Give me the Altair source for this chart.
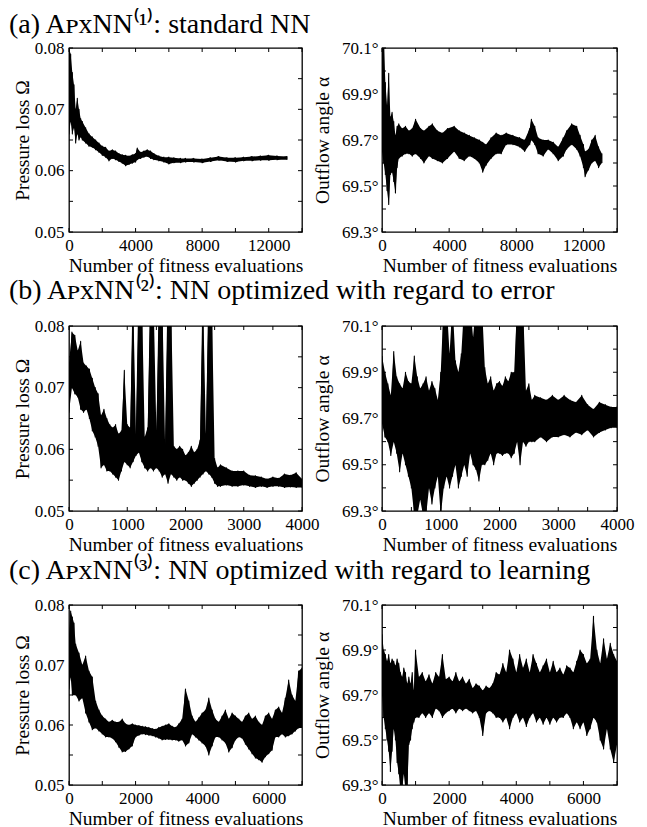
import altair as alt
import pandas as pd

FONT = "Liberation Serif"

# ---------------- (a) standard NN ----------------
a_loss_x = [0, 100, 200, 300, 400, 500, 600, 700, 800, 1000, 1200, 1400, 1600, 1800, 2000, 2200, 2400,
            2600, 2800, 3000, 3200, 3400, 3600, 3800, 4000, 4100, 4300, 4500, 4700, 4900, 5100, 5400,
            5700, 6000, 6300, 6700, 7000, 7500, 8000, 8500, 9000, 9500, 10000, 10500, 11000, 11500,
            12000, 12500, 13100]
a_loss_hi = [0.080, 0.079, 0.076, 0.074, 0.070, 0.0718, 0.070, 0.0685, 0.068, 0.067, 0.066, 0.0655,
             0.065, 0.0645, 0.064, 0.0638, 0.0632, 0.0634, 0.0632, 0.0628, 0.0626, 0.0625, 0.0624,
             0.0626, 0.0628, 0.0637, 0.0630, 0.0632, 0.0634, 0.0632, 0.0628, 0.0624, 0.0622, 0.0622,
             0.0621, 0.0620, 0.0620, 0.0620, 0.0619, 0.0621, 0.0623, 0.0621, 0.0621, 0.0622, 0.0623,
             0.0624, 0.0625, 0.0624, 0.0623]
a_loss_lo = [0.066, 0.068, 0.066, 0.067, 0.0645, 0.066, 0.065, 0.0655, 0.065, 0.0645, 0.064, 0.0638,
             0.0634, 0.063, 0.0625, 0.0622, 0.0616, 0.062, 0.0618, 0.0615, 0.0612, 0.0608, 0.061,
             0.0612, 0.0614, 0.0618, 0.062, 0.0622, 0.0623, 0.062, 0.0618, 0.0616, 0.0614, 0.0611,
             0.0613, 0.0613, 0.0614, 0.0614, 0.0613, 0.0615, 0.0617, 0.0615, 0.0614, 0.0616, 0.0616,
             0.0617, 0.0617, 0.0618, 0.0618]

a_ang_x = [0, 100, 200, 300, 400, 500, 600, 700, 800, 900, 1000, 1200, 1400, 1600, 1800, 2000, 2300,
           2500, 2800, 3000, 3300, 3600, 3900, 4300, 4600, 4900, 5200, 5500, 5800, 6000, 6200, 6500,
           6800, 7100, 7400, 7800, 8200, 8500, 8800, 8900, 9100, 9300, 9600, 9900, 10200, 10500,
           10800, 11000, 11300, 11600, 11800, 12000, 12100, 12300, 12500, 12700, 12900, 13100]
a_ang_hi = [70.15, 70.15, 69.95, 69.85, 69.99, 69.80, 69.82, 69.78, 69.72, 69.76,
            69.77, 69.75, 69.76, 69.74, 69.75, 69.79, 69.75, 69.74, 69.76, 69.77,
            69.74, 69.73, 69.75, 69.76, 69.74, 69.73, 69.72, 69.71, 69.70, 69.69,
            69.68, 69.71, 69.73, 69.72, 69.73, 69.72, 69.71, 69.70, 69.75, 69.79,
            69.76, 69.71, 69.70, 69.70, 69.69, 69.67, 69.71, 69.74, 69.77, 69.76,
            69.72, 69.68, 69.65, 69.66, 69.70, 69.72, 69.67, 69.64]
a_ang_lo = [69.65, 69.60, 69.55, 69.48, 69.42, 69.55, 69.56, 69.52, 69.47, 69.58,
            69.62, 69.63, 69.64, 69.64, 69.63, 69.64, 69.62, 69.60, 69.63, 69.62,
            69.61, 69.60, 69.62, 69.65, 69.62, 69.61, 69.63, 69.62, 69.60, 69.56,
            69.59, 69.62, 69.64, 69.64, 69.68, 69.68, 69.67, 69.65, 69.68, 69.70,
            69.68, 69.64, 69.63, 69.66, 69.64, 69.61, 69.63, 69.66, 69.68, 69.66,
            69.63, 69.58, 69.54, 69.57, 69.60, 69.61, 69.58, 69.60]

# ---------------- (b) optimized w.r.t. error ----------------
b_x = [0, 50, 100, 150, 200, 250, 300, 350, 400, 450, 500, 550, 600, 650, 700, 750, 800, 850, 900, 950,
       1000, 1050, 1100, 1150, 1200, 1250, 1300, 1350, 1400, 1450, 1500, 1550, 1600, 1650, 1700, 1750,
       1800, 1850, 1900, 1950, 2000, 2050, 2100, 2150, 2200, 2250, 2300, 2350, 2400, 2450, 2500, 2550,
       2600, 2700, 2800, 2900, 3000, 3100, 3200, 3300, 3400, 3500, 3600, 3700, 3800, 3900, 4000]
b_loss_hi = [0.074, 0.079, 0.0785, 0.076, 0.0775, 0.074, 0.0735, 0.073, 0.0715, 0.070,
             0.069, 0.0655, 0.0665, 0.065, 0.064, 0.0635, 0.064, 0.0625, 0.063, 0.0728,
             0.064, 0.0635, 0.085, 0.0625, 0.085, 0.085, 0.062, 0.0635, 0.085, 0.085,
             0.063, 0.085, 0.085, 0.0605, 0.085, 0.085, 0.0605, 0.060, 0.0605, 0.060,
             0.059, 0.0595, 0.0605, 0.0595, 0.060, 0.0615, 0.085, 0.0625, 0.085, 0.085,
             0.0585, 0.057, 0.0575,
             0.057, 0.0565, 0.0565, 0.0565, 0.0558, 0.0557, 0.0555, 0.0552, 0.0555, 0.0553,
             0.056, 0.0558, 0.0562, 0.0552]
b_loss_lo = [0.066, 0.070, 0.069, 0.0685, 0.0665, 0.066, 0.0665, 0.065, 0.063, 0.062,
             0.0605, 0.057, 0.0575, 0.0565, 0.0565, 0.056, 0.0555, 0.055, 0.0565, 0.058,
             0.0575, 0.057, 0.058, 0.059, 0.0595, 0.058, 0.057, 0.0565, 0.057, 0.0565,
             0.057, 0.0565, 0.0555, 0.056, 0.0545, 0.056, 0.0555, 0.055, 0.0555, 0.055,
             0.055, 0.0545, 0.054, 0.0545, 0.055, 0.0555, 0.056, 0.0565, 0.056, 0.0555,
             0.0545, 0.054, 0.054,
             0.0542, 0.054, 0.054, 0.0542, 0.054, 0.0538, 0.054, 0.0538, 0.054, 0.054,
             0.0538, 0.0539, 0.0538, 0.0538]
b_ang_hi = [69.97, 69.90, 69.85, 69.80, 69.99, 69.88, 69.85, 69.83, 69.90, 69.86,
            69.85, 69.97, 69.88, 69.83, 69.85, 69.88, 69.82, 69.86, 69.83, 69.78,
            69.90, 70.20, 70.20, 69.98, 70.20, 69.95, 69.90, 69.98, 70.20, 70.20,
            70.20, 70.05, 70.20, 70.20, 70.20, 69.92, 69.85, 69.88, 69.82, 69.85,
            69.86, 69.84, 69.88, 69.86, 69.90, 69.90, 70.20, 70.20, 70.20, 69.82,
            69.85, 69.78, 69.80,
            69.79, 69.78, 69.80, 69.78, 69.80, 69.78, 69.77, 69.80, 69.76, 69.74,
            69.77, 69.76, 69.75, 69.75]
b_ang_lo = [69.68, 69.62, 69.60, 69.54, 69.60, 69.55, 69.47, 69.55, 69.50, 69.45,
            69.40, 69.28, 69.28, 69.35, 69.28, 69.28, 69.40, 69.33, 69.40, 69.45,
            69.28, 69.40, 69.45, 69.40, 69.45, 69.50, 69.40, 69.45, 69.50, 69.45,
            69.55, 69.50, 69.48, 69.43, 69.50, 69.50, 69.52, 69.55, 69.50, 69.55,
            69.55, 69.54, 69.55, 69.55, 69.53, 69.55, 69.60, 69.50, 69.60, 69.58,
            69.60, 69.60, 69.60,
            69.62, 69.60, 69.62, 69.62, 69.63, 69.62, 69.64, 69.63, 69.65, 69.62,
            69.64, 69.65, 69.66, 69.66]

# ---------------- (c) optimized w.r.t. learning ----------------
c_loss_x = [0, 50, 100, 150, 200, 300, 400, 500, 600, 700, 800, 900, 1000, 1100, 1200, 1300, 1400,
            1500, 1600, 1700, 1800, 1900, 2000, 2100, 2200, 2300, 2400, 2500, 2600, 2700, 2800, 2900,
            3000, 3100, 3200, 3300, 3400, 3500, 3600, 3700, 3800, 3900, 4000, 4100, 4200, 4300, 4400,
            4500, 4600, 4700, 4800, 4900, 5000, 5100, 5200, 5300, 5400, 5500, 5600, 5700, 5800, 5900,
            6000, 6100, 6200, 6300, 6400, 6500, 6600, 6700, 6800, 6900, 7000]
c_loss_hi = [0.075, 0.079, 0.078, 0.077,
             0.0735, 0.072, 0.070, 0.0715, 0.069, 0.068, 0.064, 0.0625, 0.0615, 0.061,
             0.0605, 0.0608, 0.0605, 0.0605, 0.061, 0.0602, 0.060, 0.0602, 0.060, 0.0599,
             0.0598, 0.0597, 0.0596, 0.0594, 0.0593, 0.0596, 0.0598, 0.060, 0.0602, 0.0598,
             0.0596, 0.0602, 0.061, 0.066, 0.064, 0.0615, 0.0605, 0.0612, 0.062, 0.0625,
             0.0645, 0.0625, 0.061, 0.0605, 0.0615, 0.0625, 0.061, 0.062, 0.0615, 0.061,
             0.0605, 0.0615, 0.062, 0.061, 0.0615, 0.0605, 0.060, 0.0615, 0.062, 0.061,
             0.0625, 0.063, 0.062, 0.0645, 0.0675, 0.065, 0.064, 0.069, 0.0695]
c_loss_lo = [0.066, 0.068, 0.065, 0.065,
             0.065, 0.064, 0.0645, 0.062, 0.0605, 0.0592, 0.0595, 0.059, 0.0585, 0.058,
             0.058, 0.0578, 0.0572, 0.0563, 0.0555, 0.0556, 0.056, 0.0565, 0.058, 0.0583,
             0.0585, 0.0584, 0.0583, 0.0582, 0.058, 0.0578, 0.0575, 0.0576, 0.0576, 0.0575,
             0.0575, 0.0573, 0.0575, 0.0565, 0.057, 0.0585, 0.058, 0.0575, 0.057, 0.0565,
             0.055, 0.0565, 0.058, 0.058, 0.0575, 0.057, 0.0555, 0.0562, 0.0575, 0.058,
             0.0578, 0.0568, 0.056, 0.0552, 0.0545, 0.0542, 0.0538, 0.0547, 0.0552, 0.0558,
             0.058, 0.058, 0.0585, 0.058, 0.0582, 0.0585, 0.059, 0.0595, 0.0595]

c_ang_x = [0, 50, 100, 150, 200, 250, 300, 350, 400, 450, 500, 550, 600, 650, 700, 750, 800, 850, 900,
           950, 1000, 1100, 1200, 1300, 1400, 1500, 1600, 1700, 1800, 1900, 2000, 2100, 2200, 2300,
           2400, 2500, 2600, 2700, 2800, 2900, 3000, 3100, 3200, 3300, 3400, 3500, 3600, 3700, 3800,
           3900, 4000, 4100, 4200, 4300, 4400, 4500, 4600, 4700, 4800, 4900, 5000, 5100, 5200, 5300,
           5400, 5500, 5600, 5700, 5800, 5900, 6000, 6100, 6200, 6300, 6400, 6500, 6600, 6700, 6800,
           6900, 7000]
c_ang_hi = [69.97, 69.90, 69.88, 69.85, 69.88, 69.84, 69.86, 69.85, 69.83, 69.86, 69.84, 69.80,
            69.78, 69.82, 69.80, 69.75, 69.78, 69.75, 69.80, 69.72, 69.90,
            69.78, 69.80, 69.76, 69.79, 69.75, 69.80, 69.78, 69.88, 69.77, 69.78,
            69.76, 69.80, 69.76, 69.78, 69.75, 69.77, 69.73, 69.75, 69.74, 69.72,
            69.74, 69.73, 69.75, 69.80, 69.79, 69.84, 69.80, 69.90, 69.86, 69.80,
            69.88, 69.82, 69.86, 69.80, 69.88, 69.84, 69.80, 69.83, 69.86, 69.80,
            69.85, 69.80, 69.82, 69.79, 69.83, 69.82, 69.80, 69.85, 69.90, 69.88,
            69.84, 69.86, 70.05, 69.90, 69.84, 69.95, 69.86, 69.93, 69.88, 69.85]
c_ang_lo = [69.70, 69.60, 69.55, 69.50, 69.45, 69.36, 69.45, 69.55, 69.50, 69.40, 69.35, 69.28,
            69.28, 69.35, 69.28, 69.28, 69.48, 69.50, 69.55, 69.58, 69.60,
            69.60, 69.62, 69.60, 69.62, 69.60, 69.64, 69.63, 69.60, 69.62, 69.63,
            69.64, 69.62, 69.64, 69.63, 69.64, 69.63, 69.62, 69.63, 69.60, 69.52,
            69.62, 69.63, 69.62, 69.60, 69.60, 69.58, 69.60, 69.55, 69.60, 69.62,
            69.58, 69.60, 69.56, 69.60, 69.62, 69.58, 69.60, 69.57, 69.60, 69.57,
            69.60, 69.58, 69.60, 69.60, 69.62, 69.60, 69.55, 69.58, 69.55, 69.58,
            69.52, 69.55, 69.60, 69.58, 69.50, 69.46, 69.55, 69.46, 69.40, 69.48]

# ---------------- axes: labels and tick marks ----------------
a_xlabels = [0, 4000, 8000, 12000]
a_xticks = [0, 2000, 4000, 6000, 8000, 10000, 12000, 14000]
b_xlabels = [0, 1000, 2000, 3000, 4000]
b_xticks = [0, 500, 1000, 1500, 2000, 2500, 3000, 3500, 4000]
c_xlabels = [0, 2000, 4000, 6000]
c_xticks = [0, 1000, 2000, 3000, 4000, 5000, 6000, 7000]
loss_labels = [0.05, 0.06, 0.07, 0.08]
loss_ticks = [0.05, 0.055, 0.06, 0.065, 0.07, 0.075, 0.08]
ang_labels = [69.3, 69.5, 69.7, 69.9, 70.1]
ang_ticks = [69.3, 69.4, 69.5, 69.6, 69.7, 69.8, 69.9, 70.0, 70.1]

titles = ["(a) A\u1d18xNN\u207d\u00b9\u207e: standard NN",
          "(b) A\u1d18xNN\u207d\u00b2\u207e: NN optimized with regard to error",
          "(c) A\u1d18xNN\u207d\u00b3\u207e: NN optimized with regard to learning"]

XTITLE = "Number of fitness evaluations"
LEFT_W, RIGHT_W = 233, 235
HEIGHTS = [184, 185, 180]
TITLE_DY = [22, 10, 11]


def panel(xs, hi, lo, xdom, xlab, xtick, kind, w, h, title=None, tdy=0):
    assert len(xs) == len(hi) == len(lo)
    rows = []
    k = 0
    for x, a, b in zip(xs, hi, lo):
        rows.append({"x": x, "y": a, "k": k})
        k += 1
        rows.append({"x": x, "y": b, "k": k})
        k += 1
    zig = pd.DataFrame(rows)
    band = pd.DataFrame({"x": xs, "y": hi, "lo": lo})
    xsc = alt.Scale(domain=xdom, nice=False, zero=False)
    xax = alt.Axis(values=xlab, format="d", labelFlush=False, labelOverlap=False,
                   labelPadding=5, minExtent=25, maxExtent=25, titlePadding=14,
                   titleBaseline="alphabetic")
    if kind == "loss":
        ysc = alt.Scale(domain=[0.05, 0.08], nice=False, zero=False)
        yax = alt.Axis(values=loss_labels, format=".2f", labelPadding=5, labelOverlap=False,
                       minExtent=38, maxExtent=38, titlePadding=3, titleBaseline="alphabetic")
        ytitle = "Pressure loss \u03a9"
        ytick = loss_ticks
    else:
        ysc = alt.Scale(domain=[69.3, 70.1], nice=False, zero=False)
        yax = alt.Axis(values=ang_labels, labelExpr="format(datum.value, '.1f') + '\u00b0'",
                       labelPadding=4, labelOverlap=False, minExtent=50, maxExtent=50,
                       titlePadding=4, titleBaseline="alphabetic")
        ytitle = "Outflow angle \u03b1"
        ytick = ang_ticks
    X = alt.X("x:Q", scale=xsc, axis=xax, title=XTITLE)
    Y = alt.Y("y:Q", scale=ysc, axis=yax, title=ytitle)

    area = alt.Chart(band).mark_area(color="black", clip=True).encode(
        x=X, y=Y, y2="lo:Q")
    line = alt.Chart(zig).mark_line(color="black", strokeWidth=1.1, clip=True,
                                    strokeJoin="round").encode(x=X, y=Y, order="k:Q")
    xt = pd.DataFrame({"x": xtick})
    yt = pd.DataFrame({"y": ytick})
    tl = 4
    rule = dict(color="black", strokeWidth=1)
    bot = alt.Chart(xt).mark_rule(**rule).encode(x=X, y=alt.value(h), y2=alt.value(h - tl))
    top = alt.Chart(xt).mark_rule(**rule).encode(x=X, y=alt.value(0), y2=alt.value(tl))
    lft = alt.Chart(yt).mark_rule(**rule).encode(y=Y, x=alt.value(0), x2=alt.value(tl))
    rgt = alt.Chart(yt).mark_rule(**rule).encode(y=Y, x=alt.value(w), x2=alt.value(w - tl))
    ch = alt.layer(area, line, bot, top, lft, rgt).properties(width=w, height=h)
    if title is not None:
        ch = ch.properties(title=alt.TitleParams(
            text=title, anchor="start", frame="bounds", dx=-3, dy=tdy, offset=0,
            baseline="alphabetic", fontSize=28, font=FONT, fontWeight="normal", color="black"))
    return ch


panels = [
    panel(a_loss_x, a_loss_hi, a_loss_lo, [0, 14000], a_xlabels, a_xticks, "loss", LEFT_W, HEIGHTS[0],
          titles[0], TITLE_DY[0]),
    panel(a_ang_x, a_ang_hi, a_ang_lo, [0, 14000], a_xlabels, a_xticks, "ang", RIGHT_W, HEIGHTS[0]),
    panel(b_x, b_loss_hi, b_loss_lo, [0, 4000], b_xlabels, b_xticks, "loss", LEFT_W, HEIGHTS[1],
          titles[1], TITLE_DY[1]),
    panel(b_x, b_ang_hi, b_ang_lo, [0, 4000], b_xlabels, b_xticks, "ang", RIGHT_W, HEIGHTS[1]),
    panel(c_loss_x, c_loss_hi, c_loss_lo, [0, 7000], c_xlabels, c_xticks, "loss", LEFT_W, HEIGHTS[2],
          titles[2], TITLE_DY[2]),
    panel(c_ang_x, c_ang_hi, c_ang_lo, [0, 7000], c_xlabels, c_xticks, "ang", RIGHT_W, HEIGHTS[2]),
]

chart = alt.concat(
    *panels, columns=2, spacing={"row": 94, "column": 80}, bounds="flush"
).properties(
    padding={"left": 0, "top": 2, "right": 0, "bottom": 0}
).configure_view(
    stroke="black", strokeWidth=1.3
).configure_axis(
    domain=False, ticks=False, grid=False,
    labelFont=FONT, titleFont=FONT, labelFontSize=17, titleFontSize=19.5,
    labelColor="black", titleColor="black", titleFontWeight="normal"
).configure_title(
    font=FONT, fontSize=28, fontWeight="normal", color="black", anchor="start"
)

chart.save("out.html", embed_options={"renderer": "svg", "actions": False})
